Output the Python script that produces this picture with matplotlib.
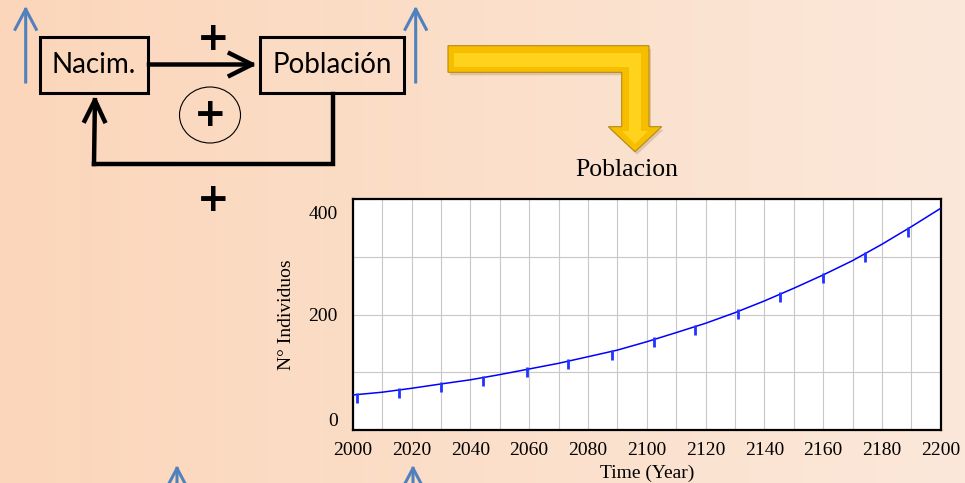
import matplotlib
matplotlib.use("Agg")
import matplotlib.pyplot as plt
import numpy as np
from matplotlib.patches import Rectangle, Ellipse, Polygon
from matplotlib.path import Path
from matplotlib.transforms import ScaledTranslation

# Poblacion (N° Individuos), every 10 years
years = [2000, 2010, 2020, 2030, 2040, 2050, 2060, 2070, 2080, 2090, 2100,
         2110, 2120, 2130, 2140, 2150, 2160, 2170, 2180, 2190, 2200]
poblacion = [60.7, 65.5, 72.3, 79.8, 87.0, 96.0, 105.8, 115.6, 127.0, 138.5, 153.0,
             168.8, 185.0, 203.4, 223.7, 245.7, 268.8, 293.6, 322.0, 352.5, 384.4]

# the little vertical markers Vensim puts on the line
marker_years = [2001.4, 2015.6, 2030.2, 2044.4, 2059.2, 2073.2, 2088.3,
                2102.6, 2116.5, 2131.2, 2145.5, 2160.1, 2174.3, 2189.0]
marker_values = [61.5, 69.0, 80.0, 91.0, 105.0, 119.0, 136.0,
                 157.0, 179.0, 206.0, 235.0, 269.0, 306.0, 349.0]

x_ticks = list(range(2000, 2201, 20))
x_grid = list(range(2000, 2201, 10))
y_ticks = [0, 100, 200, 300, 400]
y_tick_labels = ["0", "", "200", "", "400"]

W, H = 965, 483
fig = plt.figure(figsize=(W / 100, H / 100), dpi=100)

# ---- slide background (peach gradient) + diagram, in pixel coords ----
bg = fig.add_axes([0, 0, 1, 1], zorder=0)
t = np.linspace(0, 1, 256)
c_left = np.array([251, 214, 186]) / 255
c_right = np.array([251, 232, 218]) / 255
grad = c_left[None, None, :] * (1 - t[None, :, None]) + c_right[None, None, :] * t[None, :, None]
bg.imshow(grad, extent=[0, W, H, 0], aspect="auto", zorder=0)
bg.set_xlim(0, W)
bg.set_ylim(H, 0)
bg.axis("off")

sans = "Lato"
blue = "#4F81BD"


def arrow(x0, y0, x1, y1, color, lw, hl, hw):
    bg.annotate("", xy=(x1, y1), xytext=(x0, y0),
                arrowprops=dict(arrowstyle=f"->,head_length={hl},head_width={hw}",
                                color=color, lw=lw, mutation_scale=10,
                                shrinkA=0, shrinkB=0, capstyle="projecting"),
                zorder=4)


# boxes
bg.add_patch(Rectangle((40, 37), 108, 56, fill=False, lw=2.2, ec="black", zorder=3))
bg.add_patch(Rectangle((260, 37), 144, 56, fill=False, lw=2.2, ec="black", zorder=3))
bg.text(94, 65, "Nacim.", family=sans, fontsize=20, ha="center", va="center", zorder=4)
bg.text(332, 65, "Población", family=sans, fontsize=20, ha="center", va="center", zorder=4)

# causal links
arrow(149, 64.5, 257, 64.5, "black", 3.2, 1.6, 0.8)
bg.plot([333, 333, 94], [94, 164, 164], color="black", lw=3.2,
        solid_joinstyle="miter", solid_capstyle="projecting", zorder=3)
arrow(94, 164, 95, 95, "black", 3.2, 1.5, 0.72)

# signs
plus_kw = dict(family="DejaVu Sans", fontweight="bold", fontsize=28,
               ha="center", va="center", zorder=4)
bg.text(212.7, 39, "+", **plus_kw)
bg.text(210, 115, "+", **plus_kw)
bg.text(212.7, 200, "+", **plus_kw)
bg.add_patch(Ellipse((210, 115), 61, 56, fill=False, lw=0.8, ec="black", zorder=3))

# blue "increase" arrows
arrow(25.7, 82, 25.7, 6, blue, 2.2, 1.44, 0.76)
arrow(415.7, 82, 415.7, 6, blue, 2.2, 1.44, 0.76)
arrow(177, 530, 177, 465, blue, 2.2, 1.44, 0.76)
arrow(413, 530, 413, 465, blue, 2.2, 1.44, 0.76)

# yellow bent arrow
outer = [(448, 45.7), (649, 45.7), (649, 126.7), (661.7, 126.7), (635, 151.7),
         (608.3, 126.7), (621.7, 126.7), (621.7, 72.3), (448, 72.3)]
shadow = [(x + 2, y + 3) for x, y in outer]
bg.add_patch(Polygon(shadow, closed=True, fc="#8a6a40", alpha=0.25, lw=0, zorder=2))
bg.add_patch(Polygon(outer, closed=True, fc="#F7BE00", ec="#B88A10", lw=0.8, zorder=3))
inner = [(454, 53), (641, 53), (641, 131), (648, 131), (635, 144),
         (622, 131), (629, 131), (629, 67), (454, 67)]
bg.add_patch(Polygon(inner, closed=True, fc="#FFD21C", lw=0, zorder=3))

# chart title
bg.text(626.5, 176.5, "Poblacion", family="Liberation Serif", fontsize=18.5,
        ha="center", va="baseline", zorder=4)

# ---- the Vensim graph ----
serif = "Liberation Serif"
ax = fig.add_axes([352.7 / W, (H - 430) / H, 588 / W, 230.7 / H], zorder=2)
ax.set_facecolor("white")
ax.plot(years, poblacion, color="#0000FF", lw=1.1, zorder=3)
tick_marker = Path([(0, 0.25), (0, -1)], [Path.MOVETO, Path.LINETO])
ax.plot(marker_years, marker_values, ls="none", marker=tick_marker, ms=11.5,
        mew=2, mec="#2233FF", zorder=3)

ax.set_xlim(2000, 2200)
ax.set_ylim(0, 400)
ax.set_xticks(x_ticks)
ax.set_xticks(x_grid, minor=True)
ax.set_yticks(y_ticks)
ax.set_yticklabels(y_tick_labels)
ax.grid(which="both", color="#C8C8C8", lw=0.8)
ax.tick_params(which="both", length=0)
ax.tick_params(axis="x", pad=8.6, labelsize=14)
ax.tick_params(axis="y", pad=10.6, labelsize=14)
for lab in ax.get_xticklabels() + ax.get_yticklabels():
    lab.set_family(serif)
for sp in ax.spines.values():
    sp.set_linewidth(1.6)
    sp.set_color("black")

ylabs = ax.get_yticklabels()
ylabs[0].set_transform(ylabs[0].get_transform() + ScaledTranslation(0, 0.10, fig.dpi_scale_trans))
ylabs[4].set_transform(ylabs[4].get_transform() + ScaledTranslation(0, -0.134, fig.dpi_scale_trans))

ax.set_xlabel("Time (Year)", family=serif, fontsize=14)
ax.set_ylabel("N° Individuos", family=serif, fontsize=14)
ax.xaxis.set_label_coords(0.5, -0.152)
ax.yaxis.set_label_coords(-0.098, 0.5)

fig.savefig("out.png", dpi=100)
